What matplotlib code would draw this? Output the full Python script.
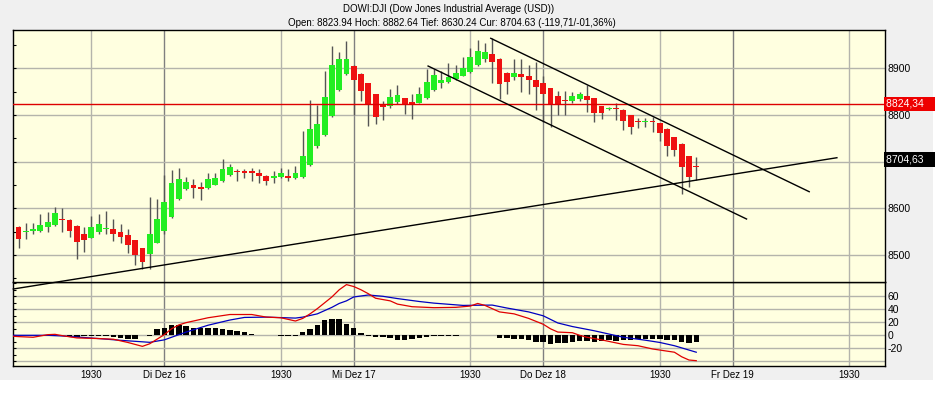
import matplotlib
matplotlib.use('Agg')
import matplotlib.pyplot as plt
import numpy as np
from matplotlib.patches import Rectangle

plt.rcParams['font.family'] = ['Liberation Sans', 'DejaVu Sans']

# ---------------- data ----------------
bar_idx = list(range(6, 100))
opens = [8561, 8549, 8551, 8552, 8559, 8565, 8577, 8576, 8563, 8544,
         8536, 8550, 8555, 8556, 8550, 8543, 8532, 8515, 8502, 8525,
         8552, 8582, 8619, 8641, 8649, 8646, 8643, 8651, 8658, 8671,
         8680, 8679, 8678, 8675, 8670, 8665, 8667, 8670, 8664, 8668,
         8693, 8734, 8757, 8798, 8853, 8887, 8905, 8888, 8868, 8844,
         8820, 8819, 8828, 8836, 8828, 8826, 8836, 8853, 8869, 8871,
         8878, 8884, 8893, 8907, 8921, 8930, 8921, 8891, 8882, 8888,
         8884, 8876, 8869, 8857, 8841, 8831, 8829, 8834, 8841, 8836,
         8819, 8813, 8813, 8811, 8800, 8787, 8784, 8786, 8782, 8771,
         8752, 8738, 8712, 8691]
highs = [8562, 8568, 8568, 8588, 8593, 8602, 8600, 8577, 8564, 8559,
         8584, 8587, 8594, 8577, 8566, 8556, 8533, 8516, 8624, 8619,
         8671, 8682, 8686, 8668, 8662, 8656, 8675, 8675, 8705, 8696,
         8685, 8684, 8686, 8684, 8671, 8681, 8687, 8684, 8690, 8766,
         8832, 8821, 8895, 8948, 8936, 8958, 8907, 8889, 8869, 8845,
         8829, 8855, 8864, 8837, 8846, 8859, 8898, 8898, 8895, 8912,
         8907, 8925, 8943, 8961, 8954, 8964, 8922, 8892, 8919, 8919,
         8907, 8913, 8884, 8858, 8851, 8851, 8850, 8850, 8864, 8837,
         8820, 8818, 8826, 8812, 8801, 8793, 8793, 8795, 8783, 8772,
         8753, 8739, 8713, 8709]
lows = [8514, 8535, 8544, 8549, 8550, 8563, 8549, 8538, 8491, 8507,
        8536, 8546, 8545, 8529, 8525, 8504, 8479, 8469, 8469, 8525,
        8545, 8580, 8617, 8639, 8622, 8618, 8641, 8649, 8656, 8669,
        8659, 8666, 8659, 8655, 8649, 8654, 8664, 8659, 8662, 8665,
        8690, 8730, 8755, 8796, 8851, 8885, 8800, 8831, 8776, 8780,
        8789, 8816, 8823, 8803, 8791, 8825, 8835, 8852, 8857, 8868,
        8875, 8883, 8891, 8906, 8914, 8868, 8834, 8846, 8875, 8849,
        8846, 8811, 8784, 8775, 8800, 8800, 8826, 8831, 8807, 8786,
        8791, 8811, 8789, 8768, 8759, 8773, 8774, 8764, 8745, 8713,
        8713, 8630, 8646, 8661]
closes = [8534, 8552, 8556, 8565, 8571, 8589, 8574, 8551, 8527, 8533,
          8561, 8566, 8556, 8545, 8538, 8521, 8501, 8486, 8544, 8577,
          8613, 8655, 8662, 8657, 8643, 8641, 8662, 8665, 8684, 8688,
          8678, 8676, 8676, 8669, 8659, 8669, 8675, 8666, 8675, 8713,
          8771, 8781, 8838, 8907, 8919, 8921, 8874, 8852, 8824, 8795,
          8818, 8838, 8843, 8824, 8824, 8845, 8870, 8886, 8876, 8882,
          8891, 8900, 8924, 8937, 8936, 8914, 8866, 8871, 8891, 8881,
          8874, 8861, 8845, 8822, 8821, 8829, 8841, 8844, 8832, 8805,
          8804, 8815, 8812, 8788, 8775, 8784, 8786, 8784, 8762, 8734,
          8724, 8688, 8668, 8688]

hist_vals = [0.6, 0, 0, 0, 0.8, 0, 0, -2.5, -3, -1,
             -1, -1, -1, -3, -4.5, -5.5, -5.5, 0, -0.8, 9.2,
             11.5, 15.4, 15.4, 13.8, 11.8, 11.3, 11.3, 11.3, 10.3, 7.7,
             6.2, 5.1, 1.5, 0, 0, 0, -0.8, -0.8, -0.8, 5.1,
             10.3, 16.4, 23, 24.6, 24.6, 17.9, 11.8, 3.6, -0.8, -2.5,
             -2.5, -3.6, -6.6, -6.6, -5.1, -3.6, -2.5, -1.5, -1.5, -1.5,
             -1.5, 0, 0, 0, 1, 1, -4.6, -4.6, -6, -6,
             -7, -9.7, -9.7, -13, -12, -12, -9.7, -8.7, -8.7, -9.7,
             -8.7, -7, -8, -7, -7, -6, -5.6, -5.6, -6, -7,
             -7, -9.7, -12, -9.7]

macd_x = [5.3, 6, 8, 10, 11, 12, 14, 17, 19, 21, 23, 24, 25, 26, 27, 28, 29, 32, 35, 38,
          40, 42, 44, 45, 46, 47, 48, 49, 50, 51, 52, 53, 54, 55, 57, 58, 60, 63, 66, 68,
          69, 70, 71, 72, 74, 76, 78, 79, 80, 82, 83, 84, 86, 89, 91, 93, 96, 97, 98, 99]
macd_vals = [-1.5, -2, -3, 1, 1.5, -0.5, -4, -5, -6, -11, -17, -13, -6, 1, 10, 16, 19.5, 27, 32, 32,
             28, 27, 22, 26, 33, 41, 50, 59, 70, 78, 75, 70, 64, 57, 53, 48, 44, 42.5, 43, 45,
             49, 46, 41, 36, 33, 26, 17, 10, 5, 4, 0, -3, -7, -14, -16, -21, -26, -33, -38, -39]

sig_x = [5.3, 6, 10, 12, 14, 17, 20, 23, 24, 26, 27, 29, 32, 35, 37, 40, 44, 45, 47, 49,
         50, 51, 52, 54, 56, 58, 61, 63, 67, 71, 73, 76, 78, 80, 82, 85, 87, 89, 92, 94,
         96, 99]
sig_vals = [0, 0, 0, -1, -2.6, -5, -7.7, -10, -10.8, -7, -3, 5, 15.5, 23.5, 27.5, 28, 26.5, 28, 33, 43,
            49, 53, 59, 62, 60, 56.5, 52, 49.5, 46, 46.5, 42, 36, 30, 19, 13.5, 7, 2, -3, -7.5, -11,
            -16, -26]

# trend lines (bar index, price)
trend_support = [(5.28, 8427.1), (118.3, 8708.4)]
channel_upper = [(70.8, 8964.3), (114.5, 8635.6)]
channel_lower = [(62.2, 8904.9), (105.9, 8577.1)]
ref_level = 8824.34
cur_level = 8704.63

price_grid = [8500, 8600, 8700, 8800, 8900]
price_labels = {8500: '8500', 8600: '8600', 8800: '8800', 8900: '8900'}
macd_grid = [-40, -20, 0, 20, 40, 60]
macd_labels = {-20: '-20', 0: '0', 20: '20', 40: '40', 60: '60'}

day_starts = [26, 52, 78, 104]
day_labels = ['Di Dez 16', 'Mi Dez 17', 'Do Dez 18', 'Fr Dez 19']
mid_ticks = [16, 42, 68, 94, 120]
mid_labels = ['1930'] * 5

title1 = 'DOWI:DJI (Dow Jones Industrial Average (USD))'
title2 = 'Open: 8823.94 Hoch: 8882.64 Tief: 8630.24 Cur: 8704.63 (-119,71/-01,36%)'

# ---------------- figure ----------------
fig = plt.figure(figsize=(9.36, 4.0), dpi=100, facecolor='white')
bgrect = Rectangle((0, 1 - 380 / 400), 933 / 936, 380 / 400, transform=fig.transFigure,
                   facecolor='#f0f0f0', edgecolor='none', zorder=-10)
fig.patches.append(bgrect)

L = 13 / 936
Wd = 872 / 936
ax = fig.add_axes([L, 1 - 282 / 400, Wd, 252 / 400], zorder=2)
ax2 = fig.add_axes([L, 1 - 366 / 400, Wd, 84 / 400], zorder=1)

bg = '#ffffe0'
for a in (ax, ax2):
    a.set_facecolor(bg)
    for s in a.spines.values():
        s.set_color('black')
        s.set_linewidth(1.0)
    a.set_xlim(5.24, 124.9)
    for d in day_starts:
        a.axvline(d, color='#808080', lw=1.0, zorder=1)
    for m in mid_ticks:
        a.axvline(m, color='#b4b4ac', lw=1.0, zorder=1)

ax.set_ylim(8442.1, 8982.1)
ax2.set_ylim(-47.2, 82.0)

for g in price_grid:
    ax.axhline(g, color='#b4b4ac', lw=1.0, zorder=1)
for g in macd_grid:
    ax2.axhline(g, color='#b4b4ac', lw=1.0, zorder=1)

# candles
up_c = '#22ee22'
dn_c = '#ee1111'
ax.vlines(bar_idx, lows, highs, color='#555555', lw=1.0, zorder=3)
bottoms = [min(o, c) for o, c in zip(opens, closes)]
heights = [max(abs(c - o), 3.0) for o, c in zip(opens, closes)]
colors = [up_c if c >= o else dn_c for o, c in zip(opens, closes)]
ax.bar(bar_idx, heights, bottom=bottoms, width=0.8, color=colors, edgecolor='none', zorder=4)

# lines
ax.axhline(ref_level, color='#dd0000', lw=1.0, zorder=5)
for ln in (trend_support, channel_upper, channel_lower):
    xs, ys = zip(*ln)
    ax.plot(xs, ys, color='black', lw=1.0, zorder=6, clip_on=False)

# price axis
ax.set_xticks([])
yt = list(range(8450, 8951, 50))
ax.set_yticks(yt)
ax.set_yticklabels([price_labels.get(v, '') for v in yt])
ax.tick_params(axis='y', left=True, right=False, labelleft=False, labelright=True,
               direction='in', length=2.5, pad=2, labelsize=7.5)

ax.annotate('8824,34   ', xy=(1, ref_level), xycoords=('axes fraction', 'data'),
            xytext=(1.0, 0), textcoords='offset points', ha='left', va='center',
            color='white', fontsize=7.5,
            bbox=dict(boxstyle='square,pad=0.2', fc='#ee0000', ec='none'), annotation_clip=False)
ax.annotate('8704,63   ', xy=(1, cur_level), xycoords=('axes fraction', 'data'),
            xytext=(1.0, 0), textcoords='offset points', ha='left', va='center',
            color='white', fontsize=7.5,
            bbox=dict(boxstyle='square,pad=0.2', fc='black', ec='none'), annotation_clip=False)

# MACD panel
ax2.bar(bar_idx, hist_vals, width=0.75, color='black', zorder=3)
ax2.plot(sig_x, sig_vals, color='#0000c0', lw=0.9, zorder=4)
ax2.plot(macd_x, macd_vals, color='#e00000', lw=0.9, zorder=5)

yt2 = list(range(-40, 81, 10))
ax2.set_yticks(yt2)
ax2.set_yticklabels([macd_labels.get(v, '') for v in yt2])
ax2.tick_params(axis='y', left=True, right=False, labelleft=False, labelright=True,
                direction='in', length=2.5, pad=2, labelsize=7.5)

xt = sorted(day_starts + mid_ticks)
lab = {d: l for d, l in zip(day_starts, day_labels)}
lab.update({m: l for m, l in zip(mid_ticks, mid_labels)})
ax2.set_xticks(xt)
ax2.set_xticklabels([lab[v] for v in xt])
ax2.tick_params(axis='x', length=0, pad=3, labelsize=7)

fig.text(449 / 936, 1 - 9 / 400, title1, ha='center', va='center', fontsize=7)
fig.text(452 / 936, 1 - 23 / 400, title2, ha='center', va='center', fontsize=7)

fig.savefig('out.png', dpi=100, facecolor=fig.get_facecolor())
